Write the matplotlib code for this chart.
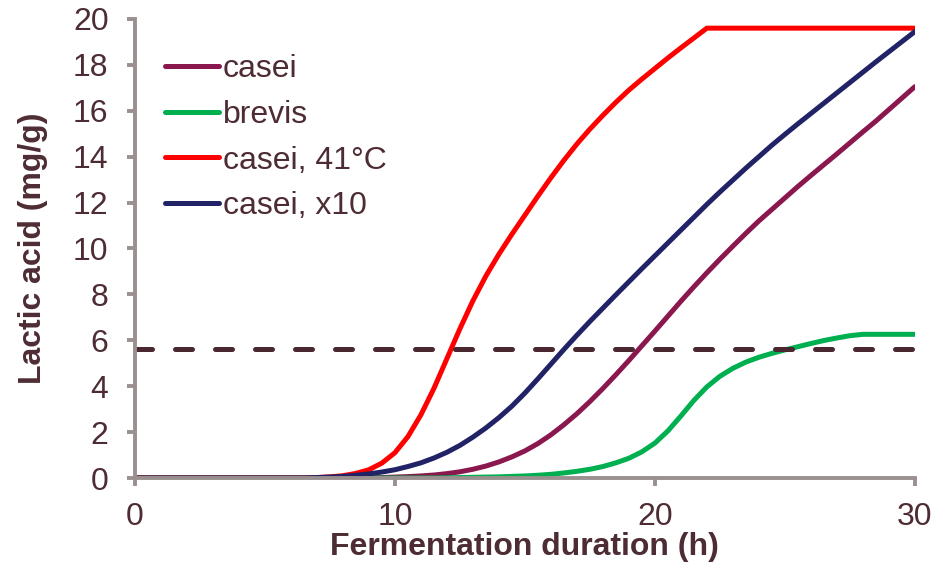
import numpy as np
import matplotlib.pyplot as plt

# sampled every half hour, 0 .. 30 h
hours = np.arange(0, 30.5, 0.5)

# lactic acid (mg/g)
casei = [0] * 18 + [
    0.01, 0.02, 0.04, 0.06, 0.09, 0.13, 0.19, 0.27, 0.38, 0.52, 0.7, 0.92,
    1.18, 1.5, 1.88, 2.32, 2.8, 3.33, 3.9, 4.5, 5.12, 5.76, 6.4, 7.05, 7.7,
    8.33, 8.94, 9.53, 10.1, 10.66, 11.2, 11.7, 12.2, 12.7, 13.18, 13.65,
    14.12, 14.6, 15.08, 15.55, 16.05, 16.55, 17.05]
brevis = [0] * 24 + [
    0.01, 0.02, 0.03, 0.04, 0.05, 0.07, 0.09, 0.12, 0.16, 0.22, 0.29, 0.38,
    0.5, 0.66, 0.86, 1.14, 1.52, 2.05, 2.7, 3.38, 3.97, 4.43, 4.78, 5.05, 5.26,
    5.43, 5.58, 5.72, 5.86, 5.99, 6.1, 6.2, 6.26, 6.26, 6.26, 6.26, 6.26]
casei_41 = [0] * 14 + [
    0.02, 0.05, 0.1, 0.2, 0.36, 0.65, 1.1, 1.8, 2.75, 3.9, 5.2, 6.5, 7.72,
    8.8, 9.75, 10.62, 11.45, 12.28, 13.08, 13.84, 14.55, 15.2, 15.8, 16.37,
    16.9, 17.38, 17.84, 18.3, 18.74, 19.17, 19.6] + [19.6] * 16
casei_x10 = [0] * 14 + [
    0.02, 0.04, 0.07, 0.12, 0.18, 0.26, 0.36, 0.5, 0.66, 0.87, 1.12, 1.42,
    1.78, 2.18, 2.63, 3.13, 3.7, 4.32, 4.96, 5.6, 6.22, 6.82, 7.4, 7.98, 8.55,
    9.12, 9.68, 10.24, 10.8, 11.36, 11.92, 12.46, 12.98, 13.5, 14.0, 14.5,
    14.97, 15.43, 15.88, 16.33, 16.78, 17.23, 17.68, 18.13, 18.57, 19.01,
    19.45]
threshold = 5.6

series = [
    ("casei", casei, "#8B174F"),
    ("brevis", brevis, "#00B050"),
    ("casei, 41°C", casei_41, "#FF0000"),
    ("casei, x10", casei_x10, "#222366"),
]

text_col = "#4d2c33"
axis_col = "#9a9090"
plt.rcParams['font.family'] = ['Liberation Sans', 'DejaVu Sans']

fig = plt.figure(figsize=(9.5, 5.7), dpi=100)
ax = fig.add_axes([0.142, 0.1614, 0.821, 0.8053])

for name, vals, col in series:
    ax.plot(hours, vals, color=col, lw=3.6, label=name, solid_capstyle='round',
            solid_joinstyle='round')
ax.plot([hours[0], hours[-1]], [threshold, threshold], color="#4a2830",
        lw=3.6, dashes=(3.4, 4.6), dash_capstyle='round')

ax.set_xlim(0, 30)
ax.set_ylim(0, 20)
ax.set_xticks([0, 10, 20, 30])
ax.set_yticks(np.arange(0, 21, 2))
for s in ['top', 'right']:
    ax.spines[s].set_visible(False)
for s in ['left', 'bottom']:
    ax.spines[s].set_color(axis_col)
    ax.spines[s].set_linewidth(2.8)
ax.tick_params(colors=axis_col, width=2.8, length=6, labelsize=23,
               labelcolor=text_col, pad=13)
ax.tick_params(axis='x', pad=11)

ax.set_xlabel("Fermentation duration (h)", fontsize=23, fontweight='bold',
              color=text_col, labelpad=0)
ax.set_ylabel("Lactic acid (mg/g)", fontsize=23, fontweight='bold',
              color=text_col, labelpad=18)

leg = ax.legend(loc='upper left', bbox_to_anchor=(0.038, 0.923), frameon=False,
                fontsize=23, handlelength=1.72, handletextpad=0.1,
                labelspacing=0.49, borderpad=0, borderaxespad=0)
for t in leg.get_texts():
    t.set_color(text_col)

fig.savefig("out.png", dpi=100)
